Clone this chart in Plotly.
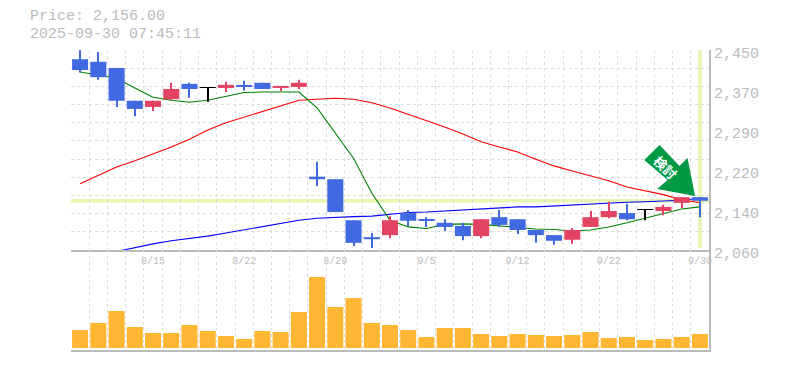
import plotly.graph_objects as go

price_text = "Price: 2,156.00"
time_text = "2025-09-30 07:45:11"
bar_index = list(range(35))
tick_index = [4, 9, 14, 19, 24, 29, 34]
tick_labels = ["8/15", "8/22", "8/29", "9/5", "9/12", "9/22", "9/30"]
price_ticks = [2060, 2138, 2216, 2294, 2372, 2450]
price_labels = ["2,060", "2,140", "2,220", "2,290", "2,370", "2,450"]
last_price = 2156

opens = [2432, 2427, 2415, 2351, 2339, 2354, 2384, 2376, 2376, 2381, 2386, 2376, 2378, 2203, 2198, 2118, 2085, 2089,
         2132, 2120, 2113, 2107, 2087, 2124, 2120, 2099, 2089, 2080, 2105, 2124, 2132, 2138, 2136, 2152, 2163]
closes = [2411, 2397, 2351, 2335, 2351, 2374, 2374, 2376, 2382, 2379, 2374, 2380, 2386, 2198, 2134, 2074, 2081, 2118,
          2117, 2117, 2105, 2087, 2120, 2109, 2099, 2089, 2078, 2099, 2124, 2136, 2120, 2138, 2144, 2163, 2156]
highs = [2450, 2446, 2415, 2351, 2351, 2386, 2386, 2378, 2388, 2390, 2386, 2380, 2392, 2232, 2198, 2118, 2093, 2126,
         2138, 2124, 2120, 2113, 2120, 2138, 2120, 2099, 2089, 2103, 2136, 2154, 2150, 2138, 2148, 2163, 2163]
lows = [2406, 2392, 2339, 2321, 2331, 2352, 2357, 2349, 2368, 2371, 2374, 2370, 2374, 2185, 2134, 2068, 2064, 2083,
        2107, 2105, 2097, 2079, 2083, 2105, 2091, 2074, 2070, 2072, 2105, 2122, 2118, 2118, 2128, 2142, 2124]
volumes = [18, 25, 37, 21, 15, 15, 23, 17, 12, 9, 17, 16, 36, 71, 41, 50, 25, 23,
           18, 11, 20, 20, 14, 12, 14, 13, 12, 13, 16, 10, 11, 8, 9, 11, 14]
ma_short = [2407, 2401, 2395, 2376, 2358, 2352, 2348, 2352, 2359, 2367, 2368, 2368, 2368, 2337, 2288, 2239, 2171, 2118,
            2105, 2102, 2110, 2111, 2110, 2107, 2103, 2101, 2100, 2097, 2099, 2105, 2113, 2122, 2132, 2140, 2144]
ma_mid = [2189, 2206, 2222, 2234, 2247, 2261, 2276, 2294, 2308, 2319, 2329, 2341, 2352, 2354, 2356, 2354, 2347, 2337,
          2325, 2313, 2300, 2286, 2271, 2261, 2251, 2237, 2224, 2214, 2204, 2195, 2183, 2175, 2168, 2158, 2152]
ma_long = [None, None, 2057, 2065, 2072, 2078, 2082, 2087, 2093, 2099, 2105, 2112, 2118, 2122, 2124, 2125, 2126, 2130,
           2133, 2134, 2136, 2138, 2140, 2142, 2144, 2144, 2146, 2148, 2150, 2152, 2153, 2154, 2155, 2157, 2161]

BLUE = "#4169E1"
RED = "#E34362"
GRAY = "#BBBBBB"
GRID = "#DDDDDD"
HIGHLIGHT = "#E6F5B0"
MONO = "Liberation Mono"
DASH = "3px,3px"
PAGE = 8  # the page body's own margin


def candle_colour(o, c):
    if o == c:
        return "#000000"
    return RED if c > o else BLUE


colours = [candle_colour(o, c) for o, c in zip(opens, closes)]
L, R, T, B = 70.5 - PAGE, 709.5 - PAGE, 50 - PAGE, 350 - PAGE
WIDTH, HEIGHT = 769, 354


def px(x):
    return (x - PAGE - L) / (R - L)


def py(y):
    return 1 - (y - PAGE - T) / (B - T)


fig = go.Figure()
for values, colour in ((ma_mid, "#FF0000"), (ma_long, "#0000FF"), (ma_short, "#008000")):
    fig.add_trace(go.Scatter(x=bar_index, y=values, mode="lines", yaxis="y", xaxis="x",
                             line=dict(color=colour, width=1.1),
                             hoverinfo="skip", connectgaps=False))

fig.add_trace(go.Bar(x=bar_index, y=[h - l for h, l in zip(highs, lows)], base=lows, width=0.055,
                     marker=dict(color=colours, line=dict(width=0)), xaxis="x", yaxis="y3"))
doji_min = 1.5
body_low = [min(o, c) for o, c in zip(opens, closes)]
body_size = [max(abs(o - c), doji_min) for o, c in zip(opens, closes)]
fig.add_trace(go.Bar(x=bar_index, y=body_size, base=body_low, width=0.88,
                     marker=dict(color=colours, line=dict(width=0)), xaxis="x", yaxis="y3"))
fig.add_trace(go.Bar(x=bar_index, y=volumes, width=0.88, marker=dict(color="#FFB733", line=dict(width=0)),
                     xaxis="x2", yaxis="y2"))

band_edges = [i - 0.5 for i in range(36)]
grid_prices = [2060 + 390 * k / 11 for k in range(12)]

fig.update_layout(
    width=WIDTH, height=HEIGHT, margin=dict(l=L, r=WIDTH - R, t=T, b=HEIGHT - B),
    paper_bgcolor="white", plot_bgcolor="white", showlegend=False, barmode="overlay",
    font=dict(family=MONO, color=GRAY),
    xaxis=dict(domain=[0, 1], range=[-0.5, 34.5], anchor="y", tickmode="array", tickvals=tick_index,
               automargin=False, ticktext=tick_labels, tickfont=dict(family=MONO, size=10, color=GRAY), ticks="",
               showgrid=False, zeroline=False, showline=True, linecolor=GRAY, linewidth=2,
               minor=dict(tickmode="array", tickvals=band_edges, showgrid=True, gridcolor=GRID,
                          griddash=DASH, gridwidth=1, ticks="")),
    xaxis2=dict(domain=[0, 1], matches="x", anchor="y2", showticklabels=False, ticks="", automargin=False,
                showgrid=False, zeroline=False, showline=True, linecolor=GRAY, linewidth=2,
                minor=dict(tickmode="array", tickvals=band_edges, showgrid=True, gridcolor=GRID,
                           griddash=DASH, gridwidth=1, ticks="")),
    yaxis=dict(domain=[1 / 3, 1], range=[2060, 2450], side="right", anchor="x", tickmode="array",
               automargin=False, tickvals=price_ticks, ticktext=price_labels, ticks="", ticklabelshift=3,
               tickfont=dict(family=MONO, size=15, color=GRAY), showgrid=False, zeroline=False,
               showline=True, linecolor=GRAY, linewidth=2,
               minor=dict(tickmode="array", tickvals=grid_prices, showgrid=True, gridcolor=GRID,
                          griddash=DASH, gridwidth=1, ticks="")),
    yaxis2=dict(domain=[0, 1 / 3], range=[-2, 98], side="right", anchor="x2", showticklabels=False, automargin=False,
                ticks="", showgrid=False, zeroline=False, showline=True, linecolor=GRAY, linewidth=2),
    yaxis3=dict(overlaying="y", range=[2060, 2450], side="right", anchor="x", visible=False, automargin=False),
    shapes=[
        dict(type="line", xref="x", yref="y", x0=-0.5, x1=34.5, y0=last_price, y1=last_price,
             line=dict(color=HIGHLIGHT, width=3.5), layer="below"),
        dict(type="line", xref="x", yref="paper", x0=34, x1=34, y0=py(50), y1=py(248),
             line=dict(color=HIGHLIGHT, width=3.5), layer="below"),
        dict(type="path", xref="paper", yref="paper", fillcolor="#009944", line=dict(width=0), layer="above",
             path="M {} {} L {} {} L {} {} L {} {} L {} {} L {} {} L {} {} Z".format(
                 px(660), py(145), px(680), py(166), px(688), py(158), px(695.5), py(196),
                 px(657.7), py(189), px(668), py(180), px(644.7), py(160))),
    ],
    annotations=[
        dict(text=price_text, xref="paper", yref="paper", x=px(27), y=py(17), xanchor="left", yanchor="middle",
             showarrow=False, font=dict(family=MONO, size=15, color=GRAY)),
        dict(text=time_text, xref="paper", yref="paper", x=px(27), y=py(34), xanchor="left", yanchor="middle",
             showarrow=False, font=dict(family=MONO, size=15, color=GRAY)),
        dict(text="<b>検討</b>", xref="paper", yref="paper", x=px(666.5), y=py(167), xanchor="center", yanchor="middle",
             showarrow=False, textangle=45, font=dict(family="Noto Sans CJK JP", size=13, color="white")),
    ],
)
fig.write_html("out.html")
